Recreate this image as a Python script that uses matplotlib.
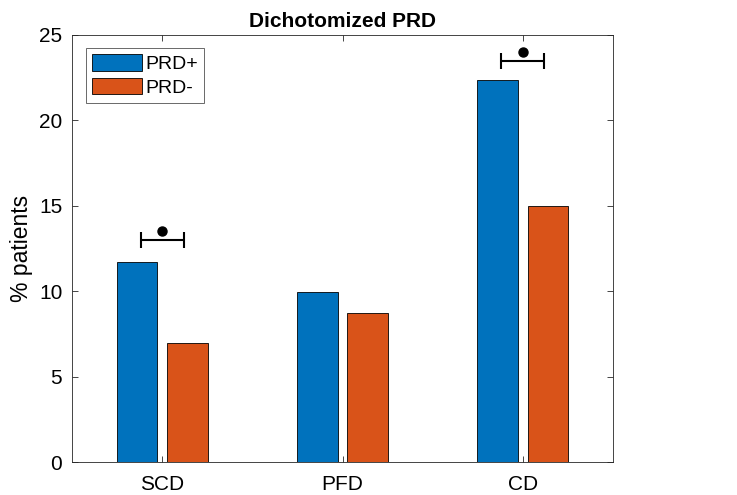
import matplotlib.pyplot as plt
import numpy as np

plt.rcParams['font.family'] = ['Liberation Sans', 'DejaVu Sans']

categories = ['SCD', 'PFD', 'CD']
prd_pos = [11.7, 9.95, 22.35]
prd_neg = [6.97, 8.73, 15.0]
labels = ['PRD+', 'PRD-']

# significance markers: (category index, bracket height, dot height)
sig_idx = [0, 2]
sig_bar_y = [13.0, 23.5]
sig_dot_y = [13.55, 24.0]

fig = plt.figure(figsize=(7.37, 4.95), dpi=100)
ax = fig.add_axes([72 / 737, 1 - 462 / 495, 541 / 737, 427 / 495])

x = np.arange(1, len(categories) + 1)
w = 0.225
off = 0.14
ax.bar(x - off, prd_pos, w, color='#0072BD', edgecolor='black', linewidth=0.6, label=labels[0])
ax.bar(x + off, prd_neg, w, color='#D95319', edgecolor='black', linewidth=0.6, label=labels[1])

for i, yb, yd in zip(sig_idx, sig_bar_y, sig_dot_y):
    ax.errorbar(x[i], yb, xerr=0.12, fmt='none', ecolor='black', elinewidth=1.5,
                capsize=6, capthick=1.5)
    ax.plot(x[i], yd, 'o', color='black', markersize=6.5)

ax.set_xlim(0.5, 3.5)
ax.set_ylim(0, 25)
ax.set_xticks(x)
ax.set_xticklabels(categories)
ax.set_yticks([0, 5, 10, 15, 20, 25])
ax.tick_params(direction='in', top=True, right=True, labelsize=15, colors='#262626',
               length=4, width=0.6, labelcolor='black')
ax.tick_params(axis='x', pad=9)
ax.tick_params(axis='y', pad=7)
for s in ax.spines.values():
    s.set_color('#262626')
    s.set_linewidth(0.6)

ax.set_ylabel('% patients', fontsize=16.5, labelpad=4)
ax.set_title('Dichotomized PRD', fontsize=15, fontweight='bold', pad=6)

leg = ax.legend(loc='upper left', bbox_to_anchor=(0.026, 0.969), fontsize=14,
                frameon=True, fancybox=False, edgecolor='#262626', handlelength=2.6,
                handleheight=0.93, handletextpad=0.15, borderpad=0.3, labelspacing=0.25,
                borderaxespad=0)
leg.get_frame().set_linewidth(0.6)

fig.savefig('out.png', dpi=100)
